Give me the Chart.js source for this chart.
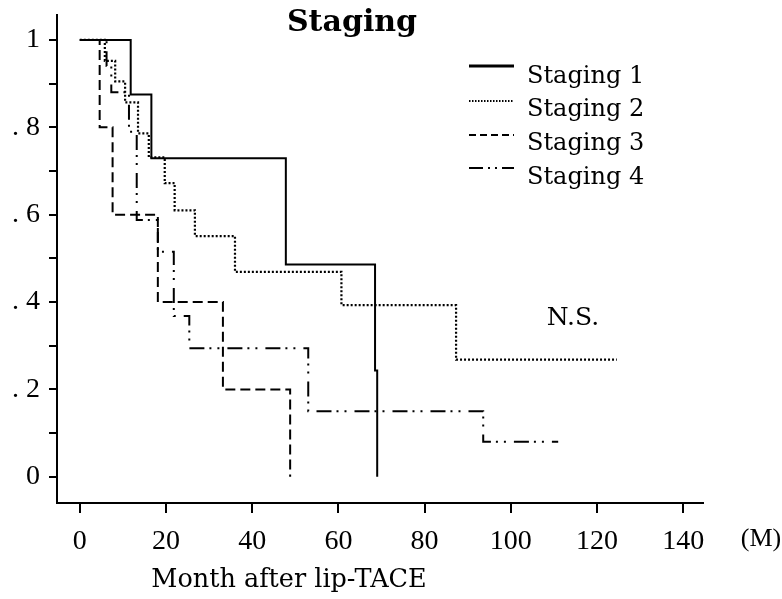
<!DOCTYPE html>
<html>
<head>
<meta charset="utf-8">
<script src="https://cdn.jsdelivr.net/npm/chart.js@4.4.1/dist/chart.umd.min.js"></script>
<style>
  html, body { margin: 0; padding: 0; background: #fff; }
  canvas { display: block; }
</style>
</head>
<body>
<canvas id="c" width="782" height="599" style="width:782px;height:599px"></canvas>
<script>
// ---- data ----
const seriesNames = ['Staging 1', 'Staging 2', 'Staging 3', 'Staging 4'];

const stage1Months = [0, 11.8, 16.6, 47.8, 68.5, 69.0];
const stage1Surv   = [1, 0.875, 0.729, 0.486, 0.243, 0];

const stage2Months = [0, 5.8, 8.2, 10.5, 13.5, 16.0, 19.7, 22.0, 26.7, 36.0, 60.7, 87.3, 124.6];
const stage2Surv   = [1, 0.952, 0.905, 0.857, 0.786, 0.731, 0.672, 0.610, 0.551, 0.469, 0.393, 0.268, 0.268];

const stage3Months = [0, 4.6, 7.6, 18.1, 33.2, 48.8];
const stage3Surv   = [1, 0.8, 0.6, 0.4, 0.2, 0];

const stage4Months = [0, 6.2, 7.3, 11.4, 13.2, 18.1, 21.8, 25.4, 53.0, 93.6, 111.0];
const stage4Surv   = [1, 0.94, 0.88, 0.79, 0.588, 0.515, 0.368, 0.294, 0.15, 0.08, 0.08];

const xTickValues = [0, 20, 40, 60, 80, 100, 120, 140];
const yTickValues = [0, 0.1, 0.2, 0.3, 0.4, 0.5, 0.6, 0.7, 0.8, 0.9, 1.0];
const yTickLabels = ['0', '', '. 2', '', '. 4', '', '. 6', '', '. 8', '', '1'];

const chartTitle = 'Staging';
const xAxisTitle = 'Month after lip-TACE';
const xUnit = '(M)';
const noteText = 'N.S.';

// ---- build ----
const toPts = (ms, ss) => ms.map((m, i) => ({ x: m, y: ss[i] }));
const dashes = [[], [2, 2], [10, 5], [15, 5, 2, 6, 2, 8]];
const legendDashes = [[], [1.5, 1.5], [7, 4], [14, 5, 2, 5, 2, 5]];
const allPts = [
  toPts(stage1Months, stage1Surv),
  toPts(stage2Months, stage2Surv),
  toPts(stage3Months, stage3Surv),
  toPts(stage4Months, stage4Surv)
];

const datasets = allPts.map((pts, i) => ({
  label: seriesNames[i],
  data: pts,
  stepped: 'before',
  borderColor: '#000',
  borderWidth: i === 1 ? 2.2 : 2,
  borderDash: dashes[i],
  borderCapStyle: 'butt',
  pointRadius: 0,
  fill: false,
  tension: 0
}));

const serif = "'DejaVu Serif', serif";
const tickFont = "'Liberation Serif', serif";

const overlay = {
  id: 'overlay',
  afterDraw(chart) {
    const ctx = chart.ctx;
    ctx.save();
    ctx.fillStyle = '#000';
    ctx.textBaseline = 'middle';
    // title
    ctx.font = "bold 30px " + serif;
    ctx.textAlign = 'center';
    ctx.fillText(chartTitle, 352, 23);
    // legend
    const lineY = [66, 101, 135, 168];
    const textY = [77, 110, 144, 178];
    ctx.font = "24px " + serif;
    ctx.textAlign = 'left';
    seriesNames.forEach((n, i) => {
      ctx.save();
      ctx.strokeStyle = '#000';
      ctx.lineWidth = i === 0 ? 3 : 2;
      ctx.setLineDash(legendDashes[i]);
      ctx.beginPath();
      ctx.moveTo(469, lineY[i]);
      ctx.lineTo(514, lineY[i]);
      ctx.stroke();
      ctx.restore();
      ctx.fillText(n, 527, textY[i]);
    });
    // N.S.
    ctx.font = "25px " + serif;
    ctx.textAlign = 'center';
    ctx.fillText(noteText, 573, 318);
    // unit & axis title
    ctx.font = "26px " + tickFont;
    ctx.fillText(xUnit, 761, 539);
    ctx.font = "25.5px " + serif;
    ctx.fillText(xAxisTitle, 289, 580);
    ctx.restore();
  }
};

new Chart(document.getElementById('c'), {
  type: 'line',
  data: { datasets },
  plugins: [overlay],
  options: {
    responsive: false,
    animation: false,
    layout: { padding: { top: 15, right: 79, left: 0, bottom: 0 } },
    plugins: { legend: { display: false }, title: { display: false }, tooltip: { enabled: false } },
    scales: {
      x: {
        type: 'linear',
        min: -5.3,
        max: 144.6,
        afterFit(s) { s.height = 96; s.paddingLeft = 0; s.paddingRight = 0; },
        afterBuildTicks(s) { s.ticks = xTickValues.map(v => ({ value: v })); },
        grid: { drawOnChartArea: false, drawTicks: true, tickLength: 10, color: '#000', lineWidth: 2 },
        border: { display: true, color: '#000', width: 2 },
        ticks: { color: '#000', font: { family: tickFont, size: 28 }, padding: 12, maxRotation: 0, autoSkip: false }
      },
      y: {
        type: 'linear',
        min: -0.06,
        max: 1.057,
        afterFit(s) { s.width = 57; s.paddingTop = 0; s.paddingBottom = 0; },
        afterBuildTicks(s) { s.ticks = yTickValues.map(v => ({ value: v })); },
        grid: { drawOnChartArea: false, drawTicks: true, tickLength: 8, color: '#000', lineWidth: 2 },
        border: { display: true, color: '#000', width: 2 },
        ticks: {
          color: '#000',
          font: { family: tickFont, size: 28 },
          padding: 9,
          autoSkip: false,
          callback(v, i) { return yTickLabels[i]; }
        }
      }
    }
  }
});
</script>
</body>
</html>
